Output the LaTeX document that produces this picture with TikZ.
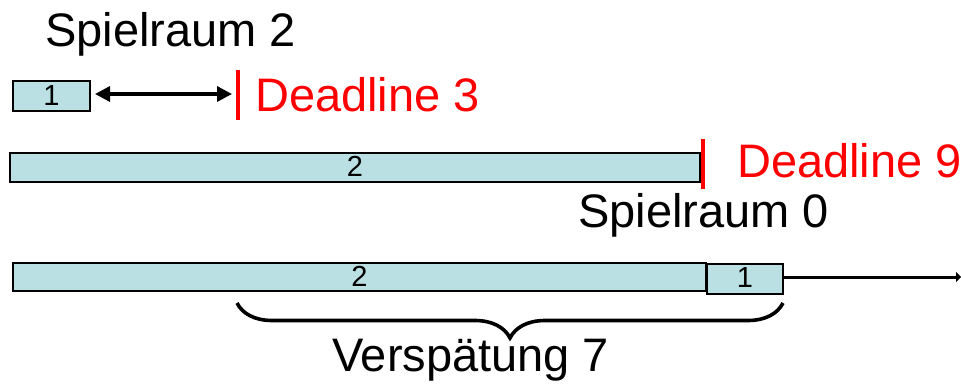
\documentclass[tikz,border=0pt]{standalone}
\usepackage{fontspec}
\setmainfont{Liberation Sans}
\usetikzlibrary{arrows.meta,decorations.pathreplacing}
\definecolor{taskfill}{RGB}{186,224,227}
\definecolor{deadred}{RGB}{255,0,0}
\begin{document}
\begin{tikzpicture}[x=1pt,y=-1pt,
  task/.style={draw=black,line width=1.8pt,fill=taskfill,inner sep=0pt,
    minimum width=#1,anchor=center},
  tasknum/.style={inner sep=0pt,font=\fontsize{29}{29}\selectfont},
  bigtext/.style={inner sep=0pt,anchor=base west,font=\fontsize{47}{47}\selectfont},
  deadbar/.style={draw=deadred,line width=4pt},
  span/.style={line width=3.3pt,{Triangle[length=15pt,width=15pt]}-{Triangle[length=15pt,width=15pt]}},
  tail/.style={line width=3pt,-{Triangle[length=5pt,width=10pt]}},
  lateness/.style={line width=3.6pt,decorate,decoration={brace,amplitude=35pt}}]
\useasboundingbox (0,0) rectangle (961,383);

% row 1: task 1 alone, slack up to deadline 3
\node[task=77pt,minimum height=30pt] (t1a) at (51.5,96) {};
\node[tasknum] at (t1a.center) {1};
\coordinate (d3t) at (238,70);
\coordinate (d3b) at (238,120);
\draw[deadbar] (d3t) -- (d3b);
\node[bigtext] (sp2) at (45,46) {Spielraum 2};
\node[bigtext,text=deadred] (dl3) at (255,111) {Deadline 3};
\coordinate (s1) at (95,94);
\coordinate (s2) at (232,94);
\draw[span] (s1) -- (s2);

% row 2: task 2 alone, ends exactly at deadline 9
\node[task=690pt,minimum height=29pt] (t2a) at (355,167.5) {};
\node[tasknum] at ([yshift=1pt]t2a.center) {2};
\coordinate (d9t) at (703,139);
\coordinate (d9b) at (703,189);
\draw[deadbar] (d9t) -- (d9b);
\node[bigtext,text=deadred] (dl9) at (737,177) {Deadline 9};
\node[bigtext] (sp0) at (578,227) {Spielraum 0};

% row 3: task 2 first, then task 1
\node[task=693pt,minimum height=28pt] (t2b) at (359.5,277) {};
\node[tasknum] at ([yshift=1pt]t2b.center) {2};
\node[task=76pt,minimum height=30pt,line width=1.5pt] (t1b) at (745,279) {};
\node[tasknum] at ([yshift=1pt]t1b.center) {1};
\coordinate (tend) at (961,277);
\draw[tail] (t1b.east |- tend) -- (tend);

% lateness of task 1
\coordinate (bl) at (237,303);
\coordinate (br) at (783,303);
\draw[lateness] (br) -- (bl);
\node[bigtext] (late) at (332,371) {Verspätung 7};
\end{tikzpicture}
\end{document}
